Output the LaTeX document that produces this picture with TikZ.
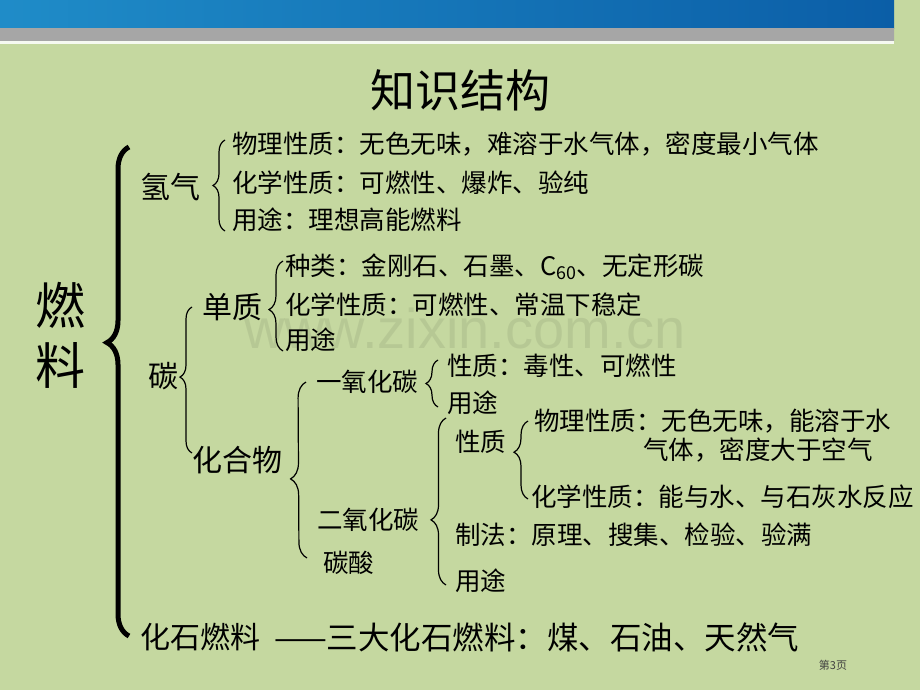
\documentclass[tikz,border=0pt]{standalone}
\usepackage{fontspec}
\setmainfont{Noto Sans CJK SC}
\newfontfamily\wmfont{Liberation Sans}
\usetikzlibrary{calc}
\usetikzlibrary{decorations.pathreplacing}
\definecolor{slidebg}{HTML}{C5D8A0}
\definecolor{bannerA}{HTML}{1F8CC8}
\definecolor{bannerB}{HTML}{00AEE2}
\definecolor{bannerC}{HTML}{0B5EA7}
\tikzset{
  sub/.style={anchor=west,inner sep=0pt,font=\fontsize{25.5}{30}\selectfont},
  head/.style={anchor=west,inner sep=0pt,font=\fontsize{30}{34}\selectfont},
  br/.style 2 args={decorate,decoration={brace,amplitude=#1,aspect=#2},line width=1.2pt}
}

\begin{document}
\begin{tikzpicture}[x=1pt,y=-1pt]
\fill[slidebg] (0,0) rectangle (920,690);
\useasboundingbox (0,0) rectangle (920,690);
\shade[left color=bannerA,middle color=bannerB,right color=bannerC] (0,0) rectangle (894,29);
\shade[left color=black!35,middle color=white,right color=black!35] (0,29) rectangle (894,41);
\fill[white!85!slidebg] (0,41) rectangle (894,44);
\node[inner sep=0pt,text=black!70!slidebg,text opacity=0.1,font=\wmfont\fontsize{56}{60}\selectfont] (wm) at (465,328) {www.zixin.com.cn};
\node[inner sep=0pt,font=\fontsize{45}{50}\selectfont] (title) at (460,90) {知识结构};
\node[inner sep=0pt,align=center,font=\fontsize{50}{60}\selectfont] (fuel) at (60,335) {燃\\料};

\node[head] (qq) at (140,187) {氢气};
\node[sub] (q1) at (232,144) {物理性质：无色无味，难溶于水气体，密度最小气体};
\node[sub] (q2) at (232,183) {化学性质：可燃性、爆炸、验纯};
\node[sub] (q3) at (232,220) {用途：理想高能燃料};

\node[head] (tan) at (148,376) {碳};
\node[head] (dz) at (202,307) {单质};
\node[sub] (d1) at (285,267) {种类：金刚石、石墨、C\textsubscript{60}、无定形碳};
\node[sub] (d2) at (285,305) {化学性质：可燃性、常温下稳定};
\node[sub] (d3) at (285,340) {用途};

\node[head] (hhw) at (192,460) {化合物};
\node[sub] (coa) at (316,382) {一氧化碳};
\node[sub] (coa1) at (447,366) {性质：毒性、可燃性};
\node[sub] (coa2) at (447,403) {用途};
\node[sub] (cob) at (317,520) {二氧化碳};
\node[sub] (ts) at (323,563) {碳酸};
\node[sub] (xz) at (455,442) {性质};
\node[sub] (wl) at (534,421) {物理性质：无色无味，能溶于水};
\node[sub] (wlb) at (643,450) {气体，密度大于空气};
\node[sub] (hx) at (531,497) {化学性质：能与水、与石灰水反应};
\node[sub] (zf) at (455,535) {制法：原理、搜集、检验、验满};
\node[sub] (yt) at (455,581) {用途};

\node[head] (hs) at (140,637) {化石燃料};
\node[head,font=\fontsize{31.5}{34}\selectfont] (hs1) at (274,637) {——三大化石燃料：煤、石油、天然气};
\node[inner sep=0pt,text=black!75,font=\fontsize{11}{13}\selectfont] (page) at (833,665) {第3页};

\draw[decorate,decoration={brace,amplitude=22,aspect=0.6},line width=5pt] ($(hs.west)+(-11,-1)$) -- ($(qq.west)+(-11,-40)$);
\draw[br={12}{0.5}] ($(q3.west)+(-7,11)$) -- ($(q1.west)+(-7,-4)$);
\draw[br={12}{0.52}] ($(hhw.west)+(0,-7)$) -- ($(dz.west)+(-10,0)$);
\draw[br={14}{0.46}] ($(d3.west)+(-2,11)$) -- ($(d1.west)+(-2,-6)$);
\draw[br={16}{0.45}] ($(ts.west)+(-16,-5)$) -- ($(coa.west)+(-10,0)$);
\draw[br={12}{0.5}] ($(coa2.west)+(-9,4)$) -- ($(coa1.west)+(-9,-6)$);
\draw[br={15}{0.39}] ($(yt.west)+(-9,4)$) -- ($(xz.west)+(-9,-24)$);
\draw[br={14}{0.6}] ($(hx.west)+(-3,2)$) -- ($(wl.west)+(-6,0)$);
\end{tikzpicture}
\end{document}
